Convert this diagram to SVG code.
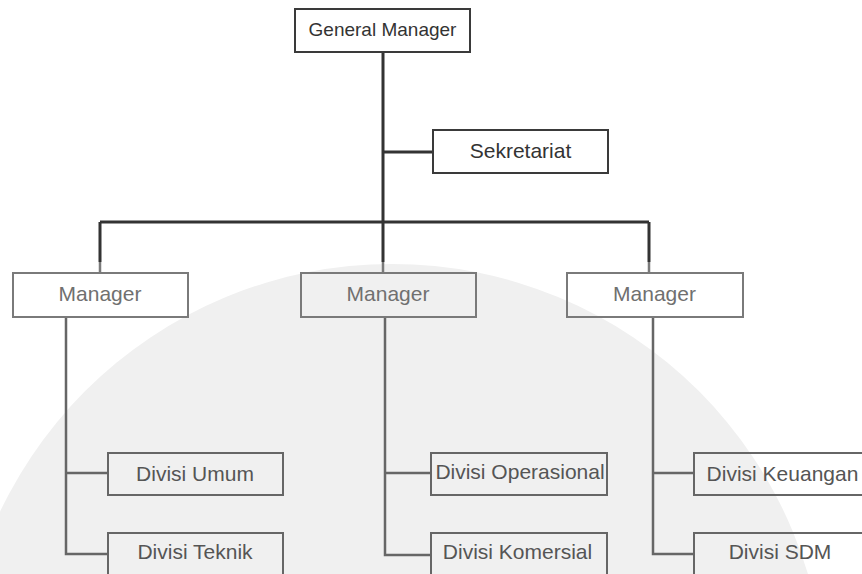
<svg xmlns="http://www.w3.org/2000/svg" width="862" height="574" viewBox="0 0 862 574">
  <style>
    text { font-family: "Liberation Sans", Arial, sans-serif; text-anchor: middle; }
    .top { fill: none; stroke: #3a3a3a; stroke-width: 2; }
    .mgr { fill: none; stroke: #7a7a7a; stroke-width: 2; }
    .div { fill: none; stroke: #666; stroke-width: 2; }
    .t-top { fill: #333; }
    .t-mgr { fill: #707070; font-size: 21px; }
    .t-div { fill: #555; font-size: 21px; }
    .dark { fill: none; stroke: #333; stroke-width: 3; }
    .grey { fill: none; stroke: #666; stroke-width: 2.5; }
    .greyl { fill: none; stroke: #7a7a7a; stroke-width: 2.5; }
  </style>
  <rect width="862" height="574" fill="#ffffff"/>
  <!-- faint watermark -->
  <circle cx="392" cy="698" r="434" fill="#f0f0f0"/>

  <g id="connectors">
    <path class="dark" d="M383,52 V222 M383,152 H433 M100,222 H649 M100,222 V262 M383,222 V262 M649,222 V262"/>
    <path class="greyl" d="M100,262 V273 M383,262 V273 M649,262 V273"/>
    <path class="grey" d="M66,317 V554 H108 M66,473 H108"/>
    <path class="grey" d="M385,317 V555 H431 M385,473 H431"/>
    <path class="grey" d="M653,317 V554 H694 M653,473 H694"/>
  </g>

  <g id="general-manager">
    <rect class="top" x="295" y="9" width="175" height="43"/>
    <text class="t-top" x="382.5" y="36" font-size="19">General Manager</text>
  </g>
  <g id="sekretariat">
    <rect class="top" x="433" y="130" width="175" height="43"/>
    <text class="t-top" x="520.5" y="157.5" font-size="21">Sekretariat</text>
  </g>

  <g id="manager-1">
    <rect class="mgr" x="13" y="273" width="175" height="44"/>
    <text class="t-mgr" x="100" y="300.5">Manager</text>
  </g>
  <g id="manager-2">
    <rect class="mgr" x="301" y="273" width="175" height="44"/>
    <text class="t-mgr" x="388" y="300.5">Manager</text>
  </g>
  <g id="manager-3">
    <rect class="mgr" x="567" y="273" width="176" height="44"/>
    <text class="t-mgr" x="654.5" y="300.5">Manager</text>
  </g>

  <g id="divisi-umum">
    <rect class="div" x="108" y="453" width="175" height="42"/>
    <text class="t-div" x="195" y="480.5">Divisi Umum</text>
  </g>
  <g id="divisi-teknik">
    <rect class="div" x="108" y="533" width="175" height="60"/>
    <text class="t-div" x="195" y="559">Divisi Teknik</text>
  </g>
  <g id="divisi-operasional">
    <rect class="div" x="431" y="453" width="176" height="42"/>
    <text class="t-div" x="520" y="478.5" font-size="20">Divisi Operasional</text>
  </g>
  <g id="divisi-komersial">
    <rect class="div" x="431" y="533" width="176" height="60"/>
    <text class="t-div" x="517.5" y="559" font-size="20">Divisi Komersial</text>
  </g>
  <g id="divisi-keuangan">
    <rect class="div" x="694" y="453" width="176" height="42"/>
    <text class="t-div" x="782.5" y="480.5">Divisi Keuangan</text>
  </g>
  <g id="divisi-sdm">
    <rect class="div" x="694" y="533" width="176" height="60"/>
    <text class="t-div" x="780" y="559">Divisi SDM</text>
  </g>
</svg>
